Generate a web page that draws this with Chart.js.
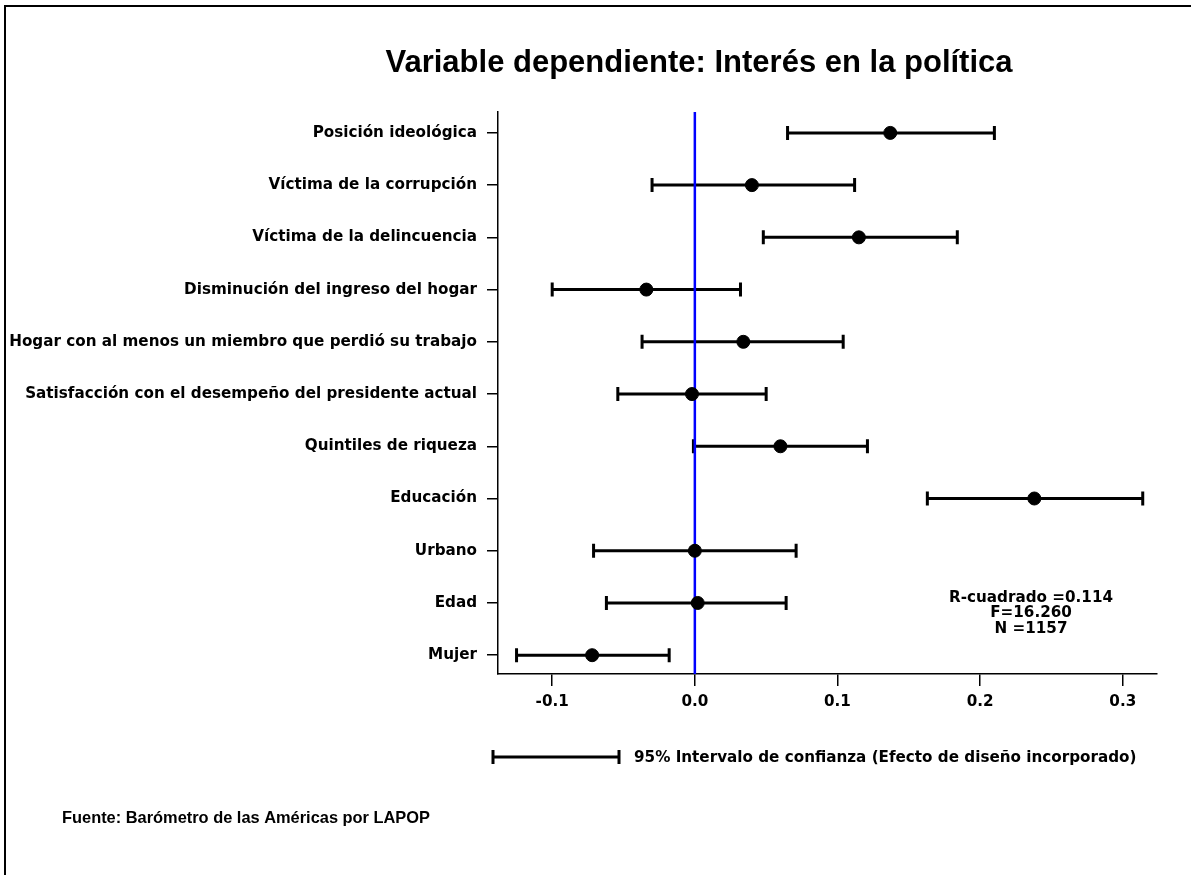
<!DOCTYPE html>
<html>
<head>
<meta charset="utf-8">
<script src="https://cdn.jsdelivr.net/npm/chart.js@4/dist/chart.umd.min.js"></script>
<style>
  html, body { margin: 0; padding: 0; background: #fff; }
  #wrap { width: 1191px; height: 875px; }
</style>
</head>
<body>
<div id="wrap"><canvas id="coef"></canvas></div>
<script>
var CATEGORIES = [
  "Posición ideológica",
  "Víctima de la corrupción",
  "Víctima de la delincuencia",
  "Disminución del ingreso del hogar",
  "Hogar con al menos un miembro que perdió su trabajo",
  "Satisfacción con el desempeño del presidente actual",
  "Quintiles de riqueza",
  "Educación",
  "Urbano",
  "Edad",
  "Mujer"
]
var ESTIMATE = [0.137, 0.040, 0.115, -0.034, 0.034, -0.002, 0.060, 0.238, 0.000, 0.002, -0.072]
var LOWER = [0.065, -0.030, 0.048, -0.100, -0.037, -0.054, -0.001, 0.163, -0.071, -0.062, -0.125]
var UPPER = [0.210, 0.112, 0.184, 0.032, 0.104, 0.050, 0.121, 0.314, 0.071, 0.064, -0.018]
var X_TICKS = [-0.1, 0.0, 0.1, 0.2, 0.3]
var STATS = ["R-cuadrado =0.114", "F=16.260", "N =1157"]

var BLACK = "#000000"
var BLUE = "#0000ff"
var FONT = "'Liberation Sans', Arial, sans-serif"
var WIDE = "'DejaVu Sans', Verdana, sans-serif"

var points = ESTIMATE.map(function (v, i) { return { x: v, y: i } })

// confidence intervals + zero line, drawn before the points
var ciPlugin = {
  id: "ci",
  beforeDatasetsDraw: function (chart) {
    var c = chart.ctx, xs = chart.scales.x, ys = chart.scales.y, a = chart.chartArea
    c.save()
    c.strokeStyle = BLACK
    c.lineWidth = 3
    for (var i = 0; i < CATEGORIES.length; i++) {
      var y = ys.getPixelForValue(i)
      var x1 = xs.getPixelForValue(LOWER[i]), x2 = xs.getPixelForValue(UPPER[i])
      c.beginPath()
      c.moveTo(x1, y); c.lineTo(x2, y)
      c.moveTo(x1, y - 7); c.lineTo(x1, y + 7)
      c.moveTo(x2, y - 7); c.lineTo(x2, y + 7)
      c.stroke()
    }
    var x0 = xs.getPixelForValue(0)
    c.strokeStyle = BLUE
    c.lineWidth = 2.5
    c.beginPath()
    c.moveTo(x0, a.top); c.lineTo(x0, a.bottom)
    c.stroke()
    c.restore()
  }
}

// frame, title, stats, legend, source
var textPlugin = {
  id: "texts",
  beforeDraw: function (chart) {
    var c = chart.ctx
    c.save()
    c.fillStyle = "#fff"
    c.fillRect(0, 0, chart.width, chart.height)
    c.strokeStyle = BLACK
    c.lineWidth = 2
    c.beginPath()
    c.moveTo(5, chart.height); c.lineTo(5, 6); c.lineTo(chart.width, 6)
    c.stroke()
    c.restore()
  },
  afterDraw: function (chart) {
    var c = chart.ctx
    c.save()
    c.fillStyle = BLACK
    c.textBaseline = "middle"

    c.textAlign = "center"
    c.font = "bold 31px " + FONT
    c.fillText("Variable dependiente: Interés en la política", 699, 63)

    c.font = "bold 15.2px " + WIDE
    STATS.forEach(function (s, i) { c.fillText(s, 1031, 598 + i * 15.5) })

    // legend sample
    c.strokeStyle = BLACK
    c.lineWidth = 3
    c.beginPath()
    c.moveTo(493, 757); c.lineTo(619, 757)
    c.moveTo(493, 750); c.lineTo(493, 764)
    c.moveTo(619, 750); c.lineTo(619, 764)
    c.stroke()
    c.textAlign = "left"
    c.font = "bold 15.2px " + WIDE
    c.fillText("95% Intervalo de confianza (Efecto de diseño incorporado)", 634, 758)

    c.font = "bold 16.4px " + FONT
    c.fillText("Fuente: Barómetro de las Américas por LAPOP", 62, 818)
    c.restore()
  }
}

new Chart(document.getElementById("coef"), {
  type: "scatter",
  data: {
    datasets: [{
      data: points,
      backgroundColor: BLACK,
      borderColor: BLACK,
      pointRadius: 6.5,
      pointHoverRadius: 6.5
    }]
  },
  options: {
    responsive: true,
    maintainAspectRatio: false,
    animation: false,
    events: [],
    layout: { padding: { left: 0, right: 34, top: 112, bottom: 141 } },
    plugins: { legend: { display: false }, tooltip: { enabled: false } },
    scales: {
      x: {
        type: "linear",
        min: -0.138,
        max: 0.324,
        afterBuildTicks: function (s) { s.ticks = X_TICKS.map(function (v) { return { value: v } }) },
        afterFit: function (s) { s.height = 60 },
        grid: { display: true, drawOnChartArea: false, drawTicks: true, tickLength: 12, color: BLACK, lineWidth: 1.5 },
        border: { display: true, color: BLACK, width: 1.5 },
        ticks: {
          color: BLACK,
          padding: 7,
          maxRotation: 0,
          font: { family: WIDE, size: 15.2, weight: "bold" },
          callback: function (v) { return v.toFixed(1) }
        }
      },
      y: {
        type: "linear",
        reverse: true,
        min: -0.4,
        max: 10.36,
        afterBuildTicks: function (s) { s.ticks = CATEGORIES.map(function (n, i) { return { value: i } }) },
        afterFit: function (s) { s.width = 498 },
        grid: { display: true, drawOnChartArea: false, drawTicks: true, tickLength: 11, color: BLACK, lineWidth: 1.5 },
        border: { display: true, color: BLACK, width: 1.5 },
        ticks: {
          color: BLACK,
          padding: 10,
          autoSkip: false,
          font: { family: WIDE, size: 15.2, weight: "bold" },
          callback: function (v) { return CATEGORIES[v] }
        }
      }
    }
  },
  plugins: [textPlugin, ciPlugin]
})
</script>
</body>
</html>
